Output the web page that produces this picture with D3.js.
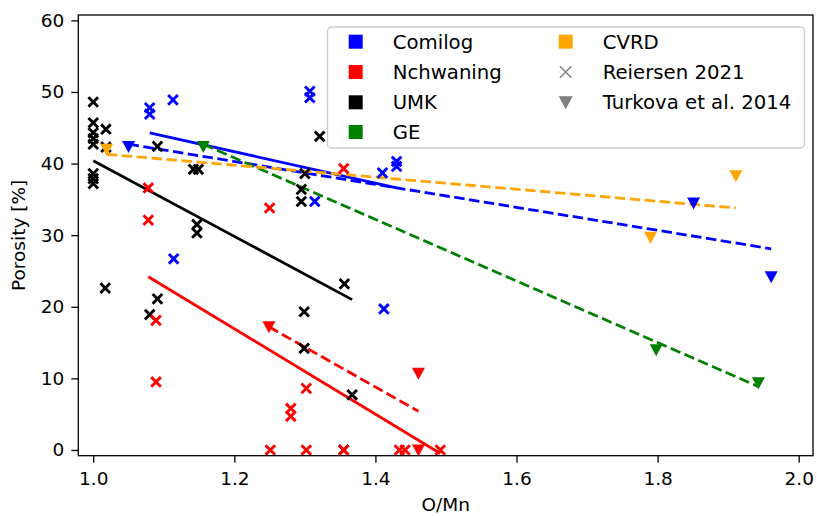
<!DOCTYPE html>
<html>
<head>
<meta charset="utf-8">
<script src="https://cdn.jsdelivr.net/npm/d3@7"></script>
<style>
  body { margin: 0; background: #fff; }
  text { font-family: "DejaVu Sans", sans-serif; }
</style>
</head>
<body>
<div id="chart"></div>
<script>
const WIDTH = 817
const HEIGHT = 516

// Reiersen 2021 (crosses)
const comilogX = [1.08, 1.08, 1.113, 1.307, 1.307, 1.43, 1.43, 1.41, 1.314, 1.114, 1.412]
const comilogY = [47.8, 46.9, 48.9, 50.1, 49.2, 40.3, 39.6, 38.7, 34.7, 26.7, 19.7]
const nchwaningX = [1.078, 1.078, 1.089, 1.089, 1.25, 1.355, 1.302, 1.28, 1.28, 1.251, 1.302, 1.355, 1.434, 1.442, 1.492]
const nchwaningY = [36.6, 32.1, 18.1, 9.5, 33.8, 39.3, 8.6, 5.8, 4.7, 0, 0, 0, 0, 0, 0]
const umkX = [1, 1, 1, 1, 1, 1, 1, 1, 1.018, 1.018, 1.017, 1.091, 1.142, 1.149, 1.147, 1.147, 1.091, 1.08, 1.30, 1.295, 1.295, 1.321, 1.356, 1.299, 1.299, 1.367, 1.355]
const umkY = [48.6, 45.7, 44.3, 43.5, 42.7, 38.6, 37.9, 37.2, 44.8, 42.3, 22.6, 42.4, 39.2, 39.2, 31.5, 30.3, 21.1, 18.9, 38.6, 36.4, 34.7, 43.8, 23.2, 19.3, 14.2, 7.7, 0]

// Turkova et al. 2014 (triangles)
const comilogTX = [1.05, 1.851, 1.961]
const comilogTY = [42.4, 34.5, 24.2]
const nchwaningTX = [1.249, 1.461, 1.461]
const nchwaningTY = [17.2, 10.7, 0]
const geTX = [1.156, 1.798, 1.943]
const geTY = [42.4, 14.0, 9.4]
const cvrdTX = [1.019, 1.790, 1.911]
const cvrdTY = [42.0, 29.7, 38.3]

// fitted trend lines, end points
const reiersenFits = [
    {name: "Comilog", x: [1.08, 1.43], y: [44.3, 36.6]},
    {name: "Nchwaning", x: [1.078, 1.492], y: [24.2, -0.5]},
    {name: "UMK", x: [1.0, 1.367], y: [40.4, 21.0]},
]
const turkovaFits = [
    {name: "Comilog", x: [1.05, 1.961], y: [42.7, 28.1]},
    {name: "Nchwaning", x: [1.249, 1.461], y: [17.2, 5.4]},
    {name: "GE", x: [1.156, 1.943], y: [42.7, 8.85]},
    {name: "CVRD", x: [1.019, 1.911], y: [41.3, 33.8]},
]

const groups = ["Comilog", "Nchwaning", "UMK", "GE", "CVRD"]
const colors = {Comilog: "#0000ff", Nchwaning: "#ff0000", UMK: "#000000", GE: "#008000", CVRD: "#ffa500"}

const xTicks = [1.0, 1.2, 1.4, 1.6, 1.8, 2.0]
const yTicks = [0, 10, 20, 30, 40, 50, 60]

const zip = (xs, ys, name) => xs.map((x, i) => ({x: x, y: ys[i], name: name}))

const crosses = [].concat(
    zip(umkX, umkY, "UMK"),
    zip(comilogX, comilogY, "Comilog"),
    zip(nchwaningX, nchwaningY, "Nchwaning"))
const triangles = [].concat(
    zip(comilogTX, comilogTY, "Comilog"),
    zip(nchwaningTX, nchwaningTY, "Nchwaning"),
    zip(geTX, geTY, "GE"),
    zip(cvrdTX, cvrdTY, "CVRD"))

const plotLeft = 78.3, plotRight = 813, plotTop = 15, plotBottom = 455.7
const FONT = 18.5

const x = d3.scaleLinear().domain([0.9788, 2.0203]).range([plotLeft, plotRight])
const y = d3.scaleLinear().domain([-0.8, 60.75]).range([plotBottom, plotTop])

const svg = d3.select("#chart").append("svg")
    .attr("width", WIDTH)
    .attr("height", HEIGHT)

svg.append("defs").append("clipPath").attr("id", "plot-clip")
    .append("rect")
    .attr("x", plotLeft).attr("y", plotTop)
    .attr("width", plotRight - plotLeft).attr("height", plotBottom - plotTop)

const plot = svg.append("g").attr("clip-path", "url(#plot-clip)")

const line = d3.line().x(d => x(d[0])).y(d => y(d[1]))

// solid fits
plot.selectAll(".fit-solid")
    .data(reiersenFits)
    .join("path")
    .attr("class", "fit-solid")
    .attr("d", d => line(d.x.map((v, i) => [v, d.y[i]])))
    .attr("fill", "none")
    .attr("stroke", d => colors[d.name])
    .attr("stroke-width", 2.8)

// dashed fits
plot.selectAll(".fit-dashed")
    .data(turkovaFits)
    .join("path")
    .attr("class", "fit-dashed")
    .attr("d", d => line(d.x.map((v, i) => [v, d.y[i]])))
    .attr("fill", "none")
    .attr("stroke", d => colors[d.name])
    .attr("stroke-width", 2.8)
    .attr("stroke-dasharray", "10.5,4.5")

const crossPath = d3.symbol().type(d3.symbolX).size(62)
const triPath = "M-6.5,-5.5 L6.5,-5.5 L0,6.5 Z"

plot.selectAll(".cross")
    .data(crosses)
    .join("path")
    .attr("class", "cross")
    .attr("d", crossPath)
    .attr("transform", d => `translate(${x(d.x)},${y(d.y)})`)
    .attr("fill", "none")
    .attr("stroke", d => colors[d.name])
    .attr("stroke-width", 2.9)

plot.selectAll(".tri")
    .data(triangles)
    .join("path")
    .attr("class", "tri")
    .attr("d", triPath)
    .attr("transform", d => `translate(${x(d.x)},${y(d.y)})`)
    .attr("fill", d => colors[d.name])

// axes
const xAxis = svg.append("g")
    .attr("transform", `translate(0,${plotBottom})`)
    .call(d3.axisBottom(x).tickValues(xTicks).tickFormat(d3.format(".1f")).tickSize(7).tickPadding(9))
const yAxis = svg.append("g")
    .attr("transform", `translate(${plotLeft},0)`)
    .call(d3.axisLeft(y).tickValues(yTicks).tickSize(7).tickPadding(7))

for (const ax of [xAxis, yAxis]) {
    ax.select(".domain").remove()
    ax.selectAll("line").attr("stroke", "#000").attr("stroke-width", 1.3)
    ax.selectAll("text")
        .attr("font-family", "DejaVu Sans")
        .attr("font-size", FONT)
        .attr("fill", "#000")
}

svg.append("rect")
    .attr("x", plotLeft).attr("y", plotTop)
    .attr("width", plotRight - plotLeft).attr("height", plotBottom - plotTop)
    .attr("fill", "none")
    .attr("stroke", "#000")
    .attr("stroke-width", 1.3)

svg.append("text")
    .attr("x", (plotLeft + plotRight) / 2)
    .attr("y", 511)
    .attr("text-anchor", "middle")
    .attr("font-size", FONT)
    .text("O/Mn")

svg.append("text")
    .attr("transform", `translate(19,${(plotTop + plotBottom) / 2}) rotate(-90)`)
    .attr("text-anchor", "middle")
    .attr("dy", "0.35em")
    .attr("font-size", FONT)
    .text("Porosity [%]")

// legend
const legend = svg.append("g").attr("class", "legend")
legend.append("rect")
    .attr("x", 327.5).attr("y", 27)
    .attr("width", 477).attr("height", 121)
    .attr("rx", 4)
    .attr("fill", "#fff")
    .attr("fill-opacity", 0.8)
    .attr("stroke", "#cccccc")
    .attr("stroke-width", 1.3)

const legendItems = groups.map(g => ({label: g, kind: "square", color: colors[g]}))
    .concat([
        {label: "Reiersen 2021", kind: "cross", color: "#808080"},
        {label: "Turkova et al. 2014", kind: "tri", color: "#808080"},
    ])
// first column: 4 rows, second column: rest
const colX = [355.7, 565.7]
const rowY = [41.7, 72, 102.3, 132]
const colOf = i => (i < 4 ? 0 : 1)
const rowOf = i => (i < 4 ? i : i - 4)

const item = legend.selectAll(".legend-item")
    .data(legendItems)
    .join("g")
    .attr("class", "legend-item")
    .attr("transform", (d, i) => `translate(${colX[colOf(i)]},${rowY[rowOf(i)]})`)

item.filter(d => d.kind === "square").append("rect")
    .attr("x", -7).attr("y", -7).attr("width", 14).attr("height", 14)
    .attr("fill", d => d.color)
item.filter(d => d.kind === "cross").append("path")
    .attr("d", d3.symbol().type(d3.symbolX).size(90))
    .attr("fill", "none")
    .attr("stroke", d => d.color)
    .attr("stroke-width", 1.5)
item.filter(d => d.kind === "tri").append("path")
    .attr("d", "M-7,-6 L7,-6 L0,7 Z")
    .attr("fill", d => d.color)
item.append("text")
    .attr("x", 37)
    .attr("dy", "0.36em")
    .attr("font-size", 19.7)
    .attr("fill", "#000")
    .text(d => d.label)
</script>
</body>
</html>
